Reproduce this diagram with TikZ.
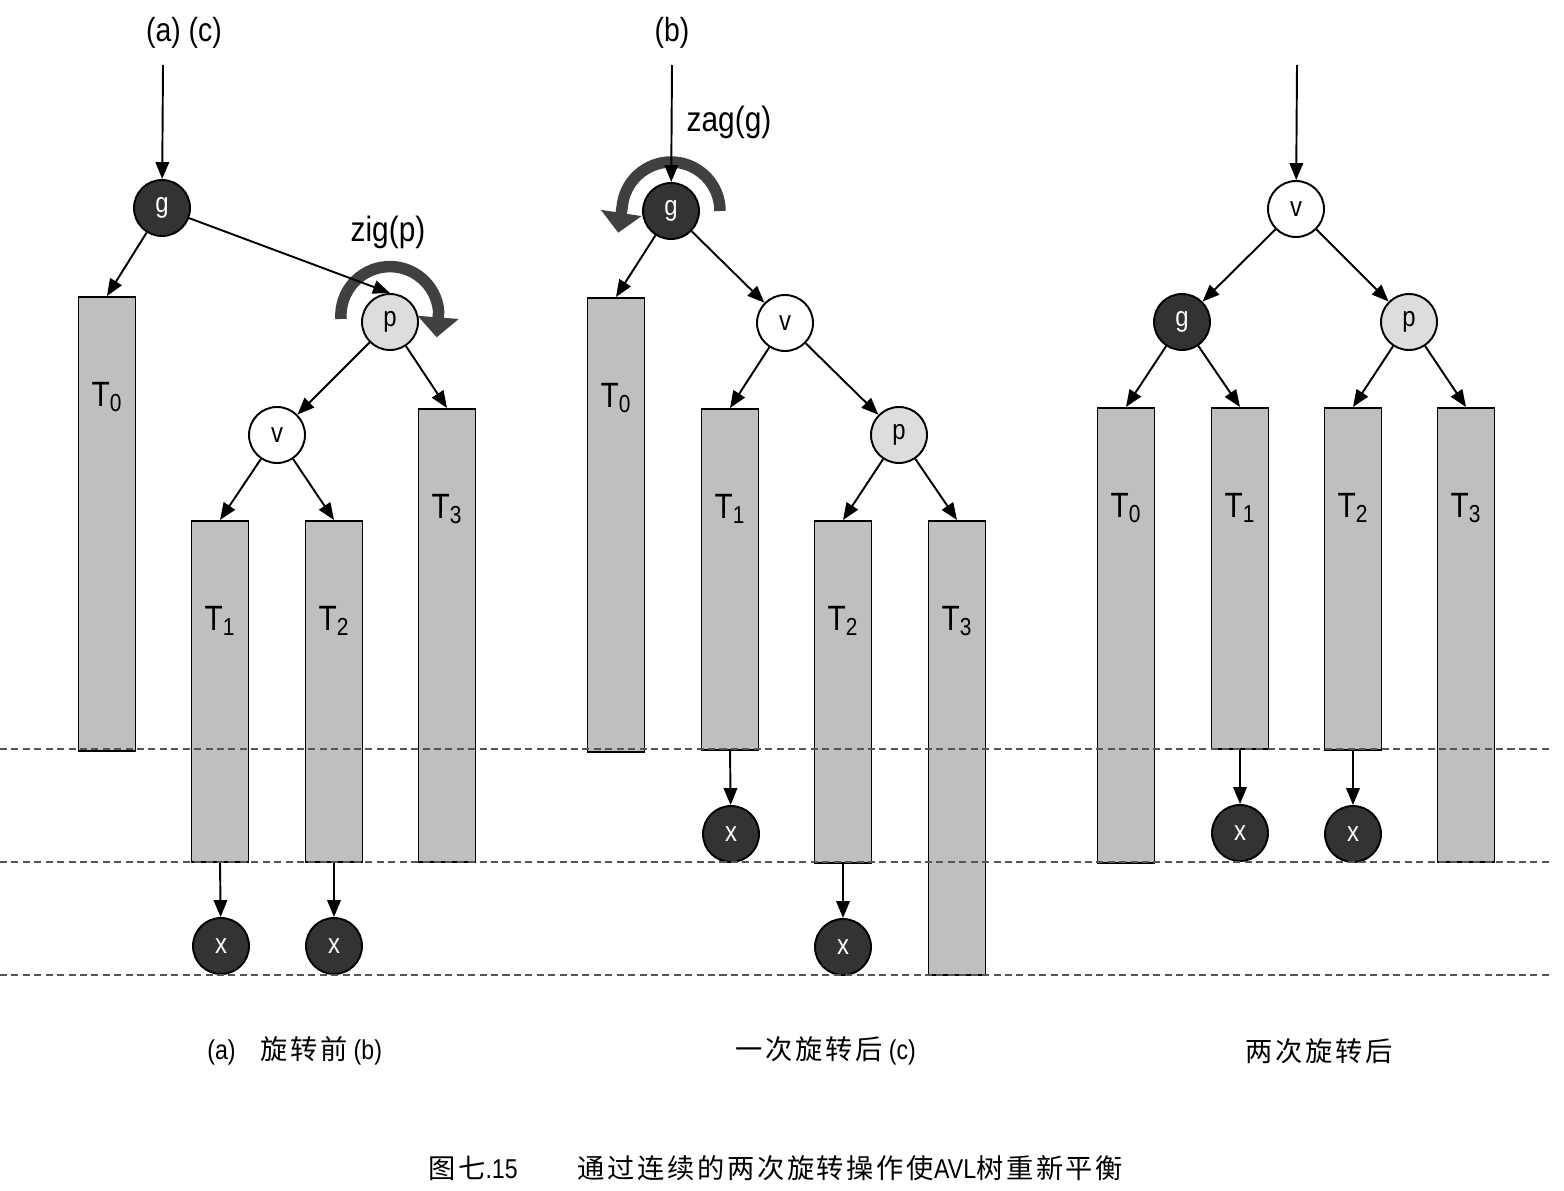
\documentclass[tikz,border=0pt]{standalone}
\usepackage{fontspec}
\setmainfont{Liberation Sans}[FakeStretch=0.85]
\newfontfamily\cjk{Noto Sans CJK SC}[LetterSpace=10]
\usepackage{tikz}
\usetikzlibrary{arrows.meta,calc}
\definecolor{clDark}{HTML}{333333}
\definecolor{clLight}{HTML}{DDDDDD}
\definecolor{clTree}{HTML}{BFBFBF}
\definecolor{clRot}{HTML}{404040}
\definecolor{clGuide}{HTML}{555555}
\tikzset{
  vertex/.style={circle, draw, line width=1.1pt, minimum size=1.12cm, inner sep=0pt,
                 font=\fontsize{16}{18}\selectfont},
  darkv/.style={vertex, fill=clDark, text=white},
  lightv/.style={vertex, fill=clLight},
  whitev/.style={vertex, fill=white},
  subtree/.style={rectangle, draw, line width=1.1pt, fill=clTree, anchor=north,
                  minimum width=1.14cm, inner sep=0pt},
  treelabel/.style={font=\fontsize{20}{22}\selectfont, inner sep=0pt},
  toplabel/.style={font=\fontsize{19}{21}\selectfont, inner sep=0pt},
  oplabel/.style={font=\fontsize{20}{22}\selectfont, inner sep=0pt},
  caption/.style={font=\fontsize{15.5}{18}\selectfont, anchor=west, inner sep=0pt},
  edge/.style={-{Triangle[length=0.34cm, width=0.27cm]}, line width=1.1pt},
  rot/.style={-{Triangle[length=0.4cm, width=0.8cm]}, line width=0.23cm, draw=clRot},
  guide/.style={dash pattern=on 4pt off 2.5pt, draw=clGuide, line width=0.6pt},
}

\begin{document}
\begin{tikzpicture}[x=0.02cm, y=-0.02cm]
  \useasboundingbox (0,0) rectangle (1564,1190);

  % ---- before rotation
  \node[toplabel] (labA) at (184,33) {(a) (c)};
  \coordinate (inA) at (163,65);
  \node[darkv] (gA) at (162,208) {g};
  \node[lightv] (pA) at (390,322) {p};
  \node[whitev] (vA) at (277,435) {v};
  \node[subtree, minimum height=9.08cm] (T0A) at (107,296) {};
  \node[subtree, minimum height=6.82cm] (T1A) at (220,520) {};
  \node[subtree, minimum height=6.82cm] (T2A) at (334,520) {};
  \node[subtree, minimum height=9.06cm] (T3A) at (447,408) {};
  \node[treelabel] (L0A) at ($(T0A.north)+(0,101)$) {T\textsubscript{0}};
  \node[treelabel] (L1A) at ($(T1A.north)+(0,101)$) {T\textsubscript{1}};
  \node[treelabel] (L2A) at ($(T2A.north)+(0,101)$) {T\textsubscript{2}};
  \node[treelabel] (L3A) at ($(T3A.north)+(0,101)$) {T\textsubscript{3}};
  \node[darkv] (x1A) at (221,946) {x};
  \node[darkv] (x2A) at (334,946) {x};
  \node[oplabel] (zig) at (388,232) {zig(p)};
  \draw[rot] ($(pA)+(-49,-3)$) arc[start angle=184, end angle=5, radius=0.98cm] -- ++(-2,26);
  \draw[edge] (inA) -- (gA);
  \draw[edge] (gA) -- (T0A.north);
  \draw[edge] (gA) -- (pA.north);
  \draw[edge] (pA) -- (vA);
  \draw[edge] (pA) -- (T3A.north);
  \draw[edge] (vA) -- (T1A.north);
  \draw[edge] (vA) -- (T2A.north);
  \draw[edge] (T1A.south) -- (x1A);
  \draw[edge] (T2A.south) -- (x2A);

  % ---- after one rotation
  \node[toplabel] (labB) at (672,33) {(b)};
  \coordinate (inB) at (672,65);
  \node[darkv] (gB) at (671,211) {g};
  \node[whitev] (vB) at (785,323) {v};
  \node[lightv] (pB) at (899,435) {p};
  \node[subtree, minimum height=9.08cm] (T0B) at (616,297) {};
  \node[subtree, minimum height=6.82cm] (T1B) at (730,408) {};
  \node[subtree, minimum height=6.84cm] (T2B) at (843,520) {};
  \node[subtree, minimum height=9.08cm] (T3B) at (957,520) {};
  \node[treelabel] (L0B) at ($(T0B.north)+(0,101)$) {T\textsubscript{0}};
  \node[treelabel] (L1B) at ($(T1B.north)+(0,101)$) {T\textsubscript{1}};
  \node[treelabel] (L2B) at ($(T2B.north)+(0,101)$) {T\textsubscript{2}};
  \node[treelabel] (L3B) at ($(T3B.north)+(0,101)$) {T\textsubscript{3}};
  \node[darkv] (x1B) at (731,834) {x};
  \node[darkv] (x2B) at (843,947) {x};
  \node[oplabel] (zag) at (729,122) {zag(g)};
  \draw[rot] ($(gB)+(49,0)$) arc[start angle=0, end angle=175, radius=0.98cm] -- ++(-4,26);
  \draw[edge] (inB) -- (gB);
  \draw[edge] (gB) -- (T0B.north);
  \draw[edge] (gB) -- (vB);
  \draw[edge] (vB) -- (T1B.north);
  \draw[edge] (vB) -- (pB);
  \draw[edge] (pB) -- (T2B.north);
  \draw[edge] (pB) -- (T3B.north);
  \draw[edge] (T1B.south) -- (x1B);
  \draw[edge] (T2B.south) -- (x2B);

  % ---- after two rotations
  \coordinate (inC) at (1297,65);
  \node[whitev] (vC) at (1296,209) {v};
  \node[darkv] (gC) at (1182,322) {g};
  \node[lightv] (pC) at (1409,322) {p};
  \node[subtree, minimum height=9.1cm] (T0C) at (1126,407) {};
  \node[subtree, minimum height=6.82cm] (T1C) at (1240,407) {};
  \node[subtree, minimum height=6.84cm] (T2C) at (1353,407) {};
  \node[subtree, minimum height=9.08cm] (T3C) at (1466,407) {};
  \node[treelabel] (L0C) at ($(T0C.north)+(0,101)$) {T\textsubscript{0}};
  \node[treelabel] (L1C) at ($(T1C.north)+(0,101)$) {T\textsubscript{1}};
  \node[treelabel] (L2C) at ($(T2C.north)+(0,101)$) {T\textsubscript{2}};
  \node[treelabel] (L3C) at ($(T3C.north)+(0,101)$) {T\textsubscript{3}};
  \node[darkv] (x1C) at (1240,833) {x};
  \node[darkv] (x2C) at (1353,834) {x};
  \draw[edge] (inC) -- (vC);
  \draw[edge] (vC) -- (gC);
  \draw[edge] (vC) -- (pC);
  \draw[edge] (gC) -- (T0C.north);
  \draw[edge] (gC) -- (T1C.north);
  \draw[edge] (pC) -- (T2C.north);
  \draw[edge] (pC) -- (T3C.north);
  \draw[edge] (T1C.south) -- (x1C);
  \draw[edge] (T2C.south) -- (x2C);

  % height levels
  \draw[guide] (0,749) -- (1550,749);
  \draw[guide] (0,862) -- (1550,862);
  \draw[guide] (0,975) -- (1550,975);

  % captions
  \node[caption] (capA) at (207,1051) {(a)\hspace{0.9em}{\cjk 旋转前} (b)};
  \node[caption] (capB) at (735,1051) {{\cjk 一次旋转后} (c)};
  \node[caption] (capC) at (1245,1051) {{\cjk 两次旋转后}};
  \node[caption] (fignum) at (428,1168) {{\cjk 图七}.15};
  \node[caption] (figtext) at (577,1168) {{\cjk 通过连续的两次旋转操作使}AVL{\cjk 树重新平衡}};
\end{tikzpicture}
\end{document}
